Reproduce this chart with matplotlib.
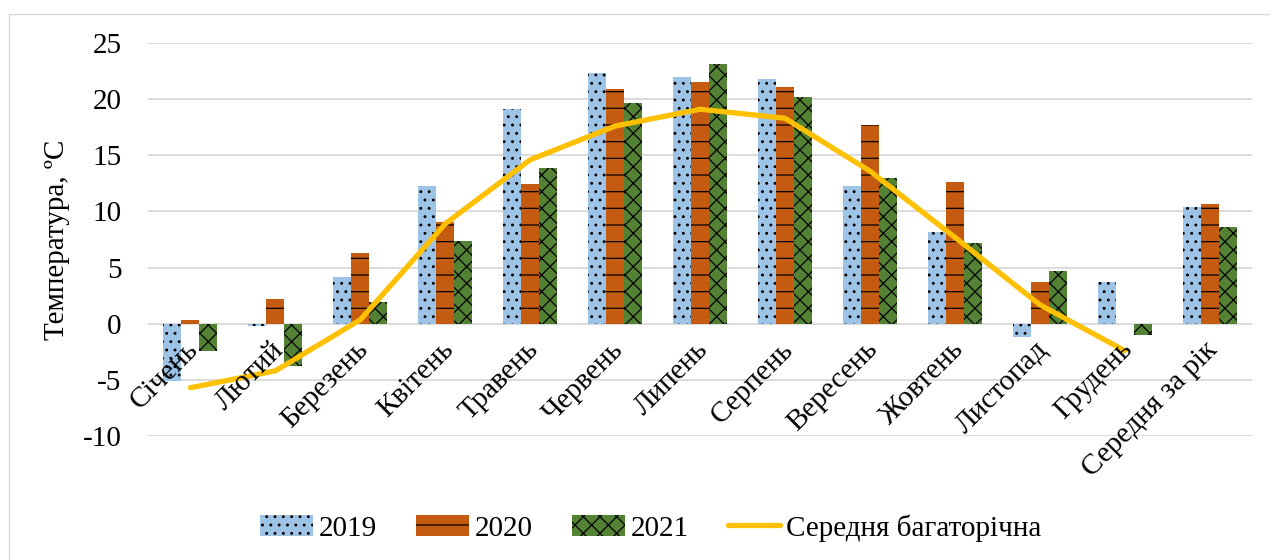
import numpy as np
import matplotlib
matplotlib.use("Agg")
import matplotlib.pyplot as plt
from matplotlib.patches import Rectangle, Patch
from matplotlib.lines import Line2D
import matplotlib.transforms as mtransforms

categories = ["Січень", "Лютий", "Березень", "Квітень", "Травень", "Червень",
              "Липень", "Серпень", "Вересень", "Жовтень", "Листопад", "Грудень",
              "Середня за рік"]
t2019 = [-5.1, -0.2, 4.2, 12.3, 19.1, 22.3, 22.0, 21.8, 12.25, 8.15, -1.2, 3.7, 10.4]
t2020 = [0.3, 2.2, 6.3, 9.1, 12.4, 20.9, 21.5, 21.1, 17.7, 12.6, 3.7, 0.0, 10.65]
t2021 = [-2.4, -3.8, 1.9, 7.4, 13.9, 19.7, 23.1, 20.2, 13.0, 7.15, 4.7, -1.0, 8.65]
t_mean = [-5.7, -4.2, 0.35, 8.9, 14.6, 17.6, 19.1, 18.3, 13.6, 7.7, 1.7, -2.4, np.nan]
series_names = ["2019", "2020", "2021", "Середня багаторічна"]
yticks = [-10, -5, 0, 5, 10, 15, 20, 25]

plt.rcParams['font.family'] = ['Liberation Serif', 'DejaVu Serif']
plt.rcParams['hatch.linewidth'] = 0.9

FS = 21
fig = plt.figure(figsize=(12.7, 5.6), dpi=100)
fig.patches.append(Rectangle((9/1270, -0.1), 1.2, 1 - 14/560 + 0.1,
                             transform=fig.transFigure, fill=False,
                             edgecolor='#D9D9D9', linewidth=1.0))
ax = fig.add_axes([148/1270, 1 - 436/560, (1252-148)/1270, (436-43)/560])

x = np.arange(len(categories))
w = 0.212
colors = ['#9DC3E6', '#C55A11', '#548235']
hatches = ['..', '-', 'xx']
for k, (vals, c, h) in enumerate(zip([t2019, t2020, t2021], colors, hatches)):
    ax.bar(x + (k - 1) * w, vals, width=w, color=c, edgecolor='black',
           linewidth=0, hatch=h, zorder=2)

ax.plot(x, t_mean, color='#FFC000', linewidth=3.8, solid_capstyle='round',
        solid_joinstyle='round', zorder=3)

ax.set_xlim(-0.5, len(categories) - 0.5)
ax.set_ylim(-10, 25)
ax.set_yticks(yticks)
ax.set_yticklabels([str(v) for v in yticks], fontsize=FS)
ax.tick_params(axis='y', length=0, pad=19)
ax.set_xticks([])
ax.grid(axis='y', color='#D9D9D9', linewidth=1.3, zorder=0)
ax.set_axisbelow(True)
for s in ax.spines.values():
    s.set_visible(False)

offset = mtransforms.ScaledTranslation(4/100, -22/100, fig.dpi_scale_trans)
trans = mtransforms.blended_transform_factory(ax.transData, ax.transData) + offset
for xi, lab in zip(x, categories):
    ax.text(xi, 0, lab, rotation=45, ha='right', va='center',
            rotation_mode='anchor', fontsize=FS, transform=trans)

fig.text(57/1270, 1 - 240/560, "Температура, ºС", rotation=90, ha='center',
         va='center', fontsize=FS)

handles = [Patch(facecolor=colors[i], edgecolor='black', linewidth=0,
                 hatch=hatches[i]) for i in range(3)]
handles.append(Line2D([0], [0], color='#FFC000', linewidth=3.8,
                      solid_capstyle='round'))
fig.legend(handles, series_names, loc='center', bbox_to_anchor=(651/1270, 1 - 528/560),
           ncol=4, frameon=False, fontsize=FS, handlelength=1.8,
           handleheight=0.75, handletextpad=0.2, columnspacing=1.35)

fig.savefig("out.png", dpi=100)
